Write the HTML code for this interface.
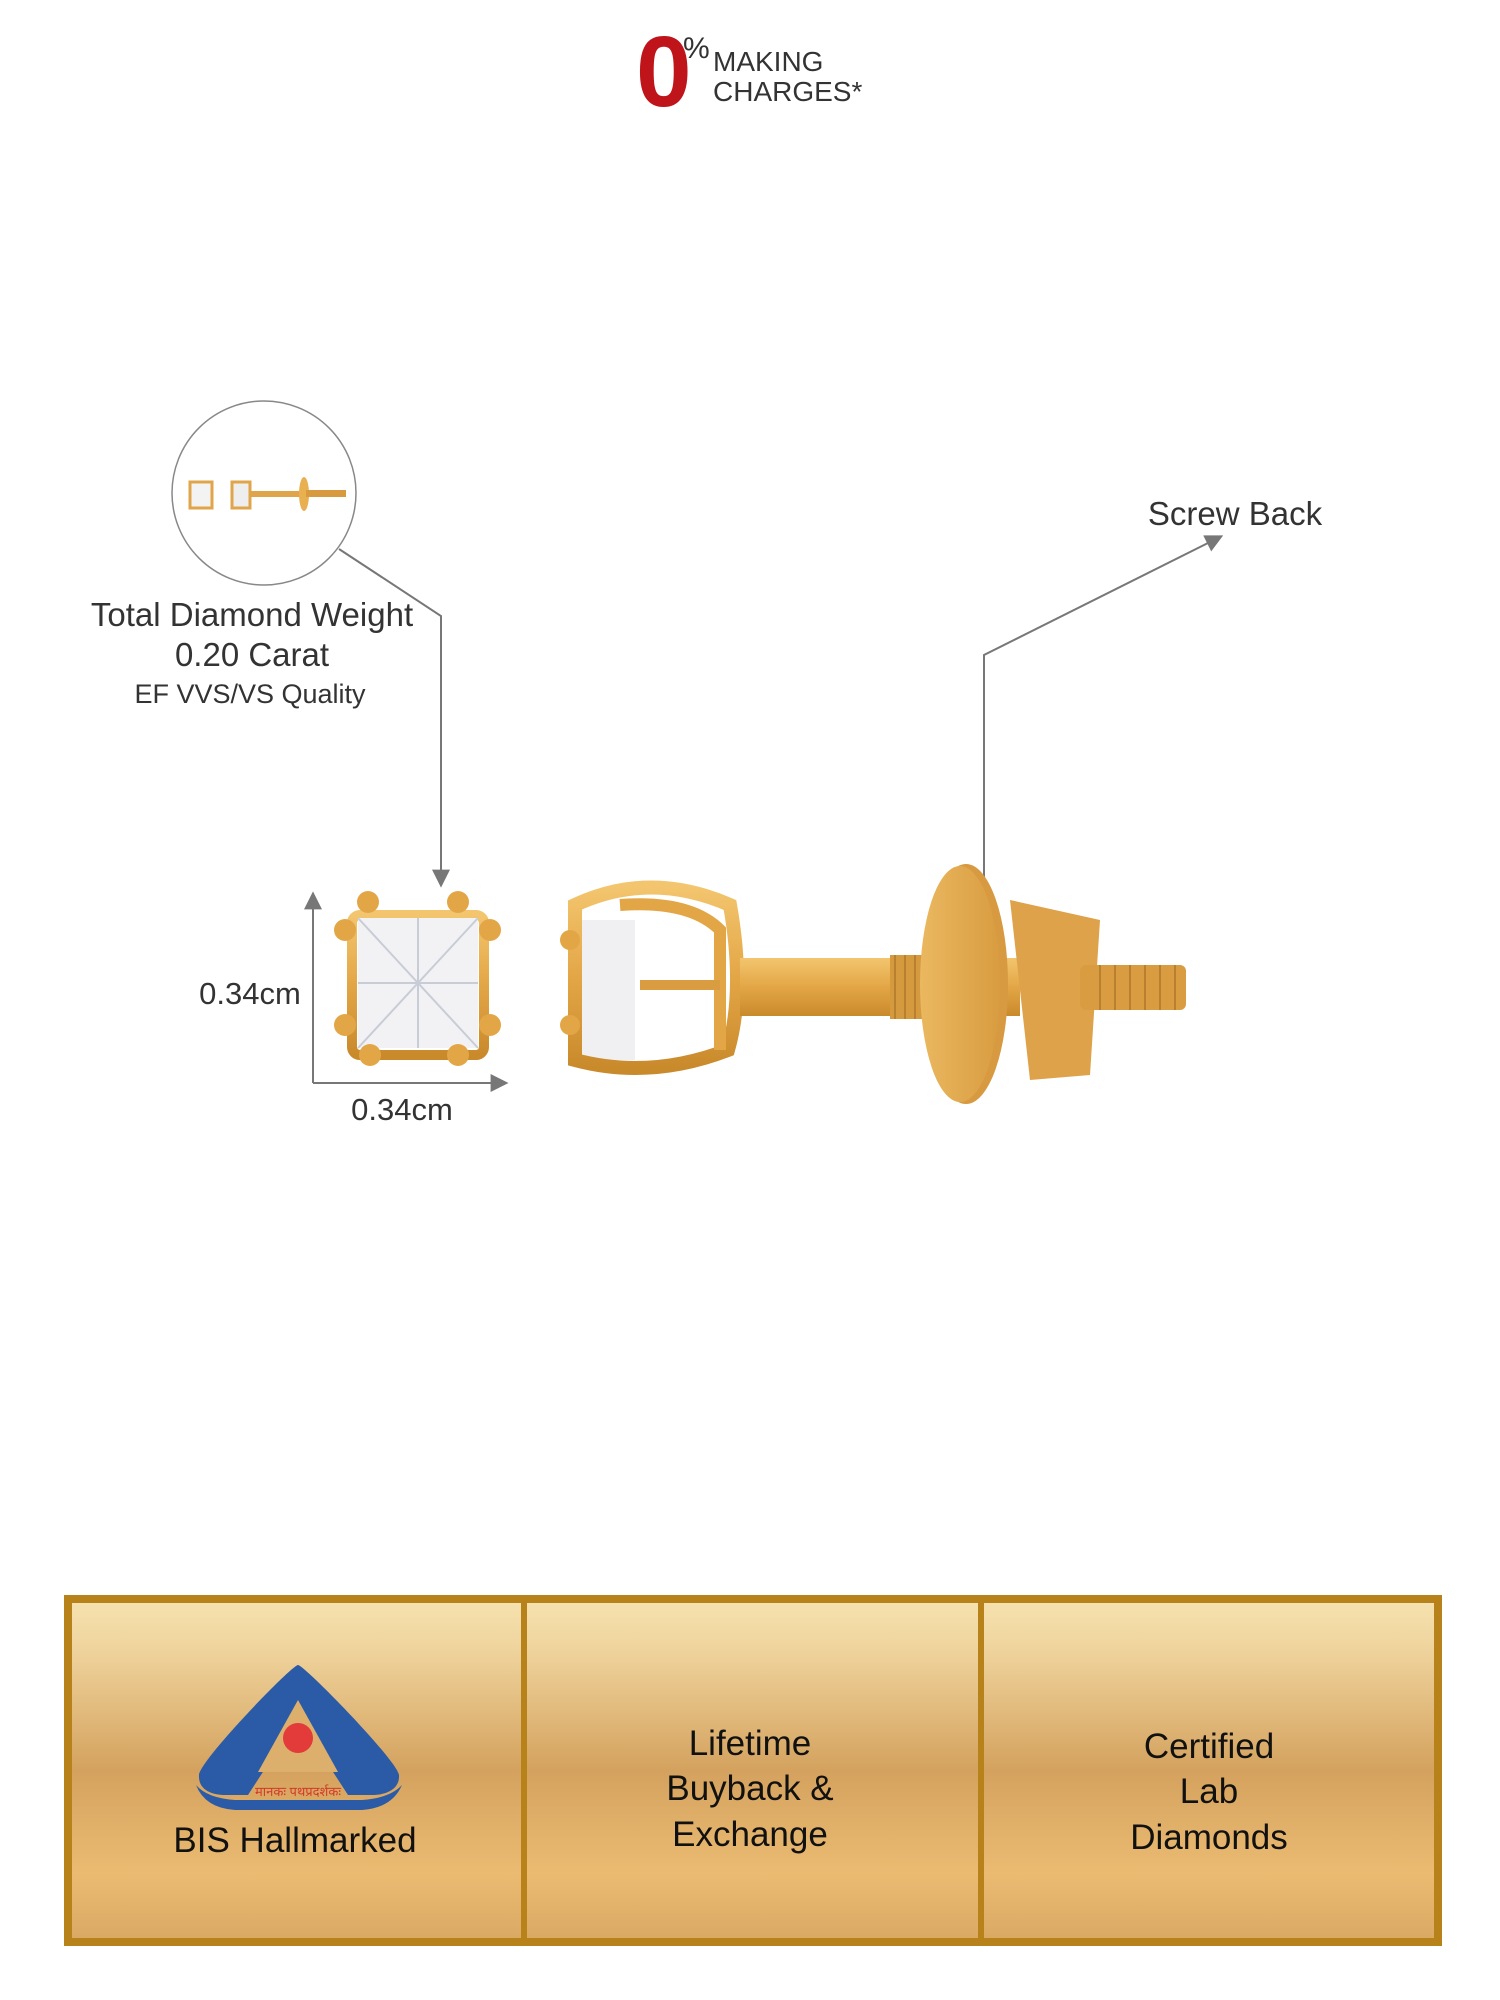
<!DOCTYPE html>
<html><head><meta charset="utf-8">
<style>
html,body{margin:0;padding:0;background:#fff;}
svg{display:block}
text{font-family:"Liberation Sans",sans-serif;}
</style></head>
<body>
<svg width="1500" height="2000" viewBox="0 0 1500 2000" xmlns="http://www.w3.org/2000/svg">
<defs>
<linearGradient id="gold" x1="0" y1="0" x2="0" y2="1">
<stop offset="0" stop-color="#f6e3b0"/><stop offset="0.15" stop-color="#efd39c"/>
<stop offset="0.5" stop-color="#d4a25e"/><stop offset="0.8" stop-color="#ebbb72"/><stop offset="1" stop-color="#d9a964"/>
</linearGradient>
<linearGradient id="metal" x1="0" y1="0" x2="0" y2="1">
<stop offset="0" stop-color="#f3c56e"/><stop offset="0.5" stop-color="#e3a646"/><stop offset="1" stop-color="#c98a2c"/>
</linearGradient>
<linearGradient id="disc" x1="0" y1="0" x2="1" y2="0">
<stop offset="0" stop-color="#eab860"/><stop offset="1" stop-color="#d99c40"/>
</linearGradient>
<marker id="ah" viewBox="0 0 10 10" refX="8" refY="5" markerWidth="9" markerHeight="9" orient="auto" markerUnits="userSpaceOnUse">
<path d="M0,0 L10,5 L0,10 z" fill="#777"/></marker>
<marker id="ah2" viewBox="0 0 10 10" refX="8" refY="5" markerWidth="18" markerHeight="18" orient="auto" markerUnits="userSpaceOnUse">
<path d="M0,0 L10,5 L0,10 z" fill="#777"/></marker>
</defs>

<!-- logo -->
<text x="636" y="106" font-size="100" font-weight="bold" fill="#c0141b">0</text>
<text x="683" y="58" font-size="30" fill="#333">%</text>
<text x="713" y="71" font-size="28" fill="#333">MAKING</text>
<text x="713" y="101" font-size="28" fill="#333">CHARGES*</text>

<!-- circle thumbnail -->
<circle cx="264" cy="493" r="92" fill="#fff" stroke="#888" stroke-width="1.5"/>
<rect x="190" y="482" width="22" height="26" fill="#f3f3f3" stroke="#e0a54a" stroke-width="3"/>
<rect x="232" y="482" width="18" height="26" fill="#eee" stroke="#e0a54a" stroke-width="3"/>
<rect x="250" y="491" width="50" height="6" fill="#e0a54a"/>
<ellipse cx="304" cy="494" rx="5" ry="17" fill="#e8b050"/>
<rect x="306" y="490" width="40" height="7" fill="#d89a3e"/>

<!-- leader lines -->
<polyline points="339,549 441,616 441,884" fill="none" stroke="#777" stroke-width="2" marker-end="url(#ah2)"/>
<polyline points="984,879 984,655 1220,537" fill="none" stroke="#777" stroke-width="2" marker-end="url(#ah2)"/>

<text x="252" y="626" font-size="33" fill="#333" text-anchor="middle">Total Diamond Weight</text>
<text x="252" y="666" font-size="33" fill="#333" text-anchor="middle">0.20 Carat</text>
<text x="250" y="703" font-size="27" fill="#333" text-anchor="middle">EF VVS/VS Quality</text>
<text x="1235" y="525" font-size="33" fill="#333" text-anchor="middle">Screw Back</text>

<!-- dimensions -->
<line x1="313" y1="1083" x2="313" y2="895" stroke="#777" stroke-width="2" marker-end="url(#ah2)"/>
<line x1="313" y1="1083" x2="505" y2="1083" stroke="#777" stroke-width="2" marker-end="url(#ah2)"/>
<text x="250" y="1004" font-size="31" fill="#333" text-anchor="middle">0.34cm</text>
<text x="402" y="1120" font-size="31" fill="#333" text-anchor="middle">0.34cm</text>

<!-- front earring -->
<rect x="352" y="915" width="132" height="140" rx="8" fill="none" stroke="url(#metal)" stroke-width="10"/>
<rect x="358" y="918" width="120" height="130" fill="#f2f2f4"/>
<g stroke="#c8ccd6" stroke-width="2">
<line x1="358" y1="918" x2="478" y2="1048"/><line x1="478" y1="918" x2="358" y2="1048"/>
<line x1="418" y1="918" x2="418" y2="1048"/><line x1="358" y1="983" x2="478" y2="983"/>
</g>
<g fill="#e3a646">
<circle cx="368" cy="902" r="11"/><circle cx="458" cy="902" r="11"/>
<circle cx="345" cy="930" r="11"/><circle cx="490" cy="930" r="11"/>
<circle cx="345" cy="1025" r="11"/><circle cx="490" cy="1025" r="11"/>
<circle cx="370" cy="1055" r="11"/><circle cx="458" cy="1055" r="11"/>
</g>

<!-- side earring -->
<rect x="580" y="920" width="55" height="140" fill="#f0f0f2"/>
<path d="M575,905 Q650,870 730,905 Q745,990 728,1050 Q650,1080 575,1060 Z" fill="none" stroke="url(#metal)" stroke-width="14"/>
<path d="M620,905 Q690,900 720,930 L720,1050" fill="none" stroke="#e3a646" stroke-width="12"/>
<path d="M640,985 Q700,985 720,985" fill="none" stroke="#d99c40" stroke-width="10"/>
<circle cx="570" cy="940" r="10" fill="#e3a646"/><circle cx="570" cy="1025" r="10" fill="#e3a646"/>
<rect x="740" y="958" width="280" height="58" fill="url(#metal)"/>
<rect x="890" y="955" width="80" height="64" fill="#d59a3e"/>
<g stroke="#b98030" stroke-width="2">
<line x1="895" y1="955" x2="895" y2="1019"/><line x1="905" y1="955" x2="905" y2="1019"/><line x1="915" y1="955" x2="915" y2="1019"/><line x1="925" y1="955" x2="925" y2="1019"/><line x1="935" y1="955" x2="935" y2="1019"/>
</g>
<path d="M1010,900 L1100,920 L1090,1075 L1030,1080 Z" fill="#dea24a"/>
<rect x="1080" y="965" width="106" height="45" rx="6" fill="#d99c40"/>
<g stroke="#b98030" stroke-width="2">
<line x1="1100" y1="965" x2="1100" y2="1010"/><line x1="1115" y1="965" x2="1115" y2="1010"/><line x1="1130" y1="965" x2="1130" y2="1010"/><line x1="1145" y1="965" x2="1145" y2="1010"/><line x1="1160" y1="965" x2="1160" y2="1010"/><line x1="1175" y1="965" x2="1175" y2="1010"/>
</g>
<ellipse cx="966" cy="984" rx="42" ry="120" fill="#d89a40"/>
<ellipse cx="960" cy="984" rx="40" ry="118" fill="url(#disc)"/>

<!-- bottom band -->
<rect x="68" y="1599" width="1370" height="343" fill="url(#gold)" stroke="#b8821a" stroke-width="8"/>
<line x1="524" y1="1599" x2="524" y2="1942" stroke="#b8821a" stroke-width="6"/>
<line x1="981" y1="1599" x2="981" y2="1942" stroke="#b8821a" stroke-width="6"/>

<!-- BIS logo -->
<path d="M298,1665 C292,1665 200,1760 199,1775 C198,1790 212,1795 225,1795 L248,1795 L298,1718 L348,1795 L372,1795 C385,1795 400,1790 399,1775 C397,1760 304,1665 298,1665 Z" fill="#2b5ba7"/>
<path d="M298,1700 L258,1772 L338,1772 Z" fill="#dcb06c"/>
<circle cx="298" cy="1738" r="15" fill="#e33a3a"/>
<path d="M196,1785 Q205,1808 235,1810 L362,1810 Q392,1808 402,1785 Q390,1798 362,1800 L235,1800 Q207,1798 196,1785 Z" fill="#2b5ba7"/>
<text x="298" y="1796" font-size="13" fill="#d23a2a" text-anchor="middle" style="font-family:'Liberation Sans','Noto Sans CJK SC',sans-serif">मानकः पथप्रदर्शकः</text>

<g font-size="35" fill="#111" text-anchor="middle">
<text x="295" y="1852">BIS Hallmarked</text>
<text x="750" y="1755">Lifetime</text>
<text x="750" y="1800">Buyback &amp;</text>
<text x="750" y="1846">Exchange</text>
<text x="1209" y="1758">Certified</text>
<text x="1209" y="1803">Lab</text>
<text x="1209" y="1849">Diamonds</text>
</g>
</svg>
</body></html>
